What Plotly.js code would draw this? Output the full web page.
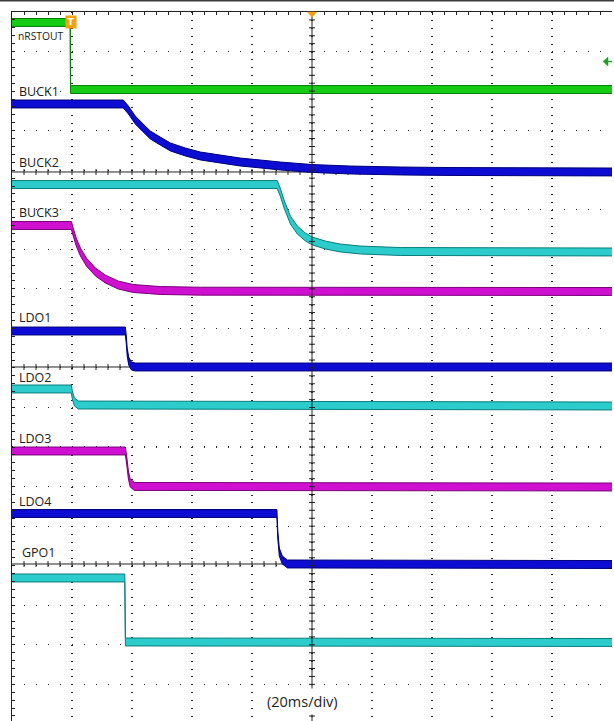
<!DOCTYPE html>
<html><head><meta charset="utf-8">
<script src="https://cdn.plot.ly/plotly-3.0.1.min.js"></script>
<style>html,body{margin:0;padding:0;background:#fff;overflow:hidden}#chart{width:614px;height:721px}</style>
</head><body><div id="chart"></div>
<script>
// Time in ms (20 ms/div, 0 = screen centre); level in screen divisions counted down from the top edge.
const channelNames = ['nRSTOUT','BUCK1','BUCK2','BUCK3','LDO1','LDO2','LDO3','LDO4','GPO1'];

const t_nRSTOUT = [-100, -80.6, -80.5, 100];
const v_nRSTOUT = [0.265, 0.265, 1.960, 1.960];

const t_BUCK1 = [-100, -62.9, -61.2, -58.9, -56.6, -53.9, -50.6, -47.2, -42.2, -37.2, -30.6, -23.9, -17.2, -10.6, 0, 12.8, 29.4, 46, 100];
const v_BUCK1 = [2.326, 2.326, 2.478, 2.731, 2.908, 3.110, 3.262, 3.413, 3.540, 3.641, 3.717, 3.793, 3.843, 3.894, 3.957, 3.995, 4.020, 4.033, 4.045];

const t_BUCK2 = [-100, -11.6, -10.6, -9.2, -7.2, -4.9, -2.2, 0.1, 4.4, 9.4, 16.1, 29.4, 100];
const v_BUCK2 = [4.362, 4.362, 4.551, 4.880, 5.259, 5.512, 5.689, 5.790, 5.891, 5.967, 6.018, 6.056, 6.068];

const t_BUCK3 = [-100, -80.2, -79.6, -78.6, -77.2, -75.2, -72.2, -68.9, -64.6, -59.6, -50.6, -37.2, 100];
const v_BUCK3 = [5.398, 5.398, 5.562, 5.815, 6.068, 6.321, 6.574, 6.751, 6.903, 6.991, 7.042, 7.059, 7.067];

const t_LDO1 = [-100, -62.2, -61.9, -61.6, -61.1, -60.2, -58.9, 100];
const v_LDO1 = [8.066, 8.066, 8.293, 8.597, 8.824, 8.951, 8.976, 8.976];

const t_LDO2 = [-100, -80.2, -79.9, -79.2, -77.9, 100];
const v_LDO2 = [9.532, 9.532, 9.684, 9.861, 9.937, 9.962];

const t_LDO3 = [-100, -62.2, -61.7, -61.2, -60.6, -59.2, 100];
const v_LDO3 = [11.100, 11.100, 11.378, 11.707, 11.909, 11.997, 12.010];

const t_LDO4 = [-100, -11.7, -11.4, -10.9, -9.9, -8.2, 100];
const v_LDO4 = [12.680, 12.680, 13.224, 13.653, 13.856, 13.957, 13.970];

const t_GPO1 = [-100, -62.4, -62.2, 100];
const v_GPO1 = [14.311, 14.311, 15.929, 15.942];

const timeBaseLabel = '(20ms/div)';

// ---- styling ----
const COL = {
  green:   {fill:'#14cc14', edge:'#0a7a0a'},
  blue:    {fill:'#0c0cd2', edge:'#000078'},
  cyan:    {fill:'#2ccccc', edge:'#0a7c7c'},
  magenta: {fill:'#d010d0', edge:'#780078'}
};
const series = [
  [t_nRSTOUT, v_nRSTOUT, COL.green],
  [t_BUCK1, v_BUCK1, COL.blue],
  [t_BUCK2, v_BUCK2, COL.cyan],
  [t_BUCK3, v_BUCK3, COL.magenta],
  [t_LDO1, v_LDO1, COL.blue],
  [t_LDO2, v_LDO2, COL.cyan],
  [t_LDO3, v_LDO3, COL.magenta],
  [t_LDO4, v_LDO4, COL.blue],
  [t_GPO1, v_GPO1, COL.cyan]
];
const H = 0.1; // half thickness of the trace band (div)
const traces = [];
series.forEach(([t, v, c]) => {
  traces.push({x:t, y:v.map(y => y - H), mode:'lines', line:{color:c.edge, width:1}, hoverinfo:'skip', showlegend:false});
  traces.push({x:t, y:v.map(y => y + H), mode:'lines', fill:'tonexty', fillcolor:c.fill, line:{color:c.edge, width:1}, hoverinfo:'skip', showlegend:false});
});

const YMAX = 17.927;
const shapes = [];
// dark bar at top of the page
shapes.push({type:'rect', xref:'paper', yref:'paper', x0:-0.05, x1:1.05, ysizemode:'pixel', yanchor:1, y0:10.6, y1:12.5, fillcolor:'#3c3c3c', line:{width:0}, layer:'above'});
// centre vertical line + ticks
shapes.push({type:'line', xref:'x', yref:'paper', x0:0, x1:0, y0:0, y1:1, line:{color:'#222', width:1}, layer:'above'});
let p = '';
for (let y = 0.2; y < YMAX; y += 0.2) p += `M-1,${y.toFixed(3)}L1,${y.toFixed(3)}`;
shapes.push({type:'path', xref:'x', yref:'y', path:p, line:{color:'#222', width:1}, layer:'above'});
// horizontal solid lines with ticks
[4.045, 8.976, 13.957].forEach(r => {
  shapes.push({type:'line', xref:'paper', yref:'y', x0:0, x1:1, y0:r, y1:r, line:{color:'#222', width:1}, layer:'between'});
  let q = '';
  for (let t = -96; t < 100; t += 4) q += `M${t},${(r-0.076).toFixed(3)}L${t},${(r+0.076).toFixed(3)}`;
  shapes.push({type:'path', xref:'x', yref:'y', path:q, line:{color:'#222', width:1}, layer:'between'});
});
// trigger position marker (top centre)
shapes.push({type:'path', xref:'x', yref:'paper', xsizemode:'pixel', ysizemode:'pixel', xanchor:0, yanchor:1,
  path:'M-4.5,0L4.5,0L0,-5.5Z', fillcolor:'#f5a011', line:{color:'#f5a011', width:0.5}, layer:'above'});
// trigger level arrow (right)
shapes.push({type:'path', xref:'x', yref:'y', xsizemode:'pixel', ysizemode:'pixel', xanchor:100, yanchor:1.252,
  path:'M-9,0L-4,4.5L-4,-4.5Z', fillcolor:'#22a022', line:{color:'#22a022', width:0.5}, layer:'above'});
shapes.push({type:'path', xref:'x', yref:'y', xsizemode:'pixel', ysizemode:'pixel', xanchor:100, yanchor:1.252,
  path:'M-4,0L0,0', line:{color:'#22a022', width:1.4}, layer:'above'});

const lab = (text, x, y, size) => ({text, x, y, xref:'x', yref:'y', xanchor:'left', yanchor:'middle', showarrow:false,
  font:{family:'Open Sans, sans-serif', size, color:'#222'}});
const annotations = [
  lab(channelNames[0], -98.6, 0.607, 10.3),
  lab(channelNames[1], -98.4, 2.010, 12.5),
  lab(channelNames[2], -98.4, 3.805, 12.5),
  lab(channelNames[3], -98.3, 5.082, 12.5),
  lab(channelNames[4], -98.2, 7.737, 12.5),
  lab(channelNames[5], -98.4, 9.254, 12.5),
  lab(channelNames[6], -98.4, 10.796, 12.5),
  lab(channelNames[7], -98.4, 12.389, 12.5),
  lab(channelNames[8], -97.4, 13.654, 12.5),
  {text:timeBaseLabel, x:-3.2, y:17.446, xref:'x', yref:'y', xanchor:'center', yanchor:'middle', showarrow:false,
   bgcolor:'#fff', borderpad:3, font:{family:'Open Sans, sans-serif', size:14.5, color:'#222'}},
  {text:'<b>T</b>', x:-80.2, y:0.253, xref:'x', yref:'y', xanchor:'center', yanchor:'middle', showarrow:false,
   bgcolor:'#f5a011', width:10, height:12, borderpad:0, font:{family:'DejaVu Sans, sans-serif', size:9, color:'#fff'}}
];

const layout = {
  width:614, height:721,
  margin:{l:12, r:2, t:12, b:0, pad:0},
  paper_bgcolor:'#fff', plot_bgcolor:'#fff',
  showlegend:false,
  xaxis:{range:[-100,100], side:'top', showline:true, linecolor:'#222', linewidth:1,
    ticks:'inside', ticklen:3, tickcolor:'#222', dtick:20, tick0:0,
    showgrid:true, gridcolor:'#2a2a2a', gridwidth:1.1, griddash:'1px,6.91px', zeroline:false, showticklabels:false,
    minor:{dtick:4, ticks:'inside', ticklen:3, tickcolor:'#222', showgrid:false}, fixedrange:true},
  yaxis:{range:[YMAX,0], showline:true, linecolor:'#222', linewidth:1,
    ticks:'inside', ticklen:3, tickcolor:'#222', dtick:1, tick0:0,
    showgrid:true, gridcolor:'#2a2a2a', gridwidth:1.1, griddash:'1px,11px', zeroline:false, showticklabels:false,
    minor:{dtick:0.2, ticks:'inside', ticklen:3, tickcolor:'#222', showgrid:false}, fixedrange:true},
  yaxis2:{overlaying:'y', side:'right', anchor:'x', range:[YMAX,0], showline:true, linecolor:'#a8a8a8', linewidth:1.5,
    ticks:'inside', ticklen:3, tickcolor:'#444', dtick:1, tick0:0, showgrid:false, zeroline:false, showticklabels:false,
    minor:{dtick:0.2, ticks:'inside', ticklen:3, tickcolor:'#444', showgrid:false}, fixedrange:true},
  shapes, annotations
};
Plotly.newPlot('chart', traces, layout, {staticPlot:true, displayModeBar:false});
</script></body></html>
